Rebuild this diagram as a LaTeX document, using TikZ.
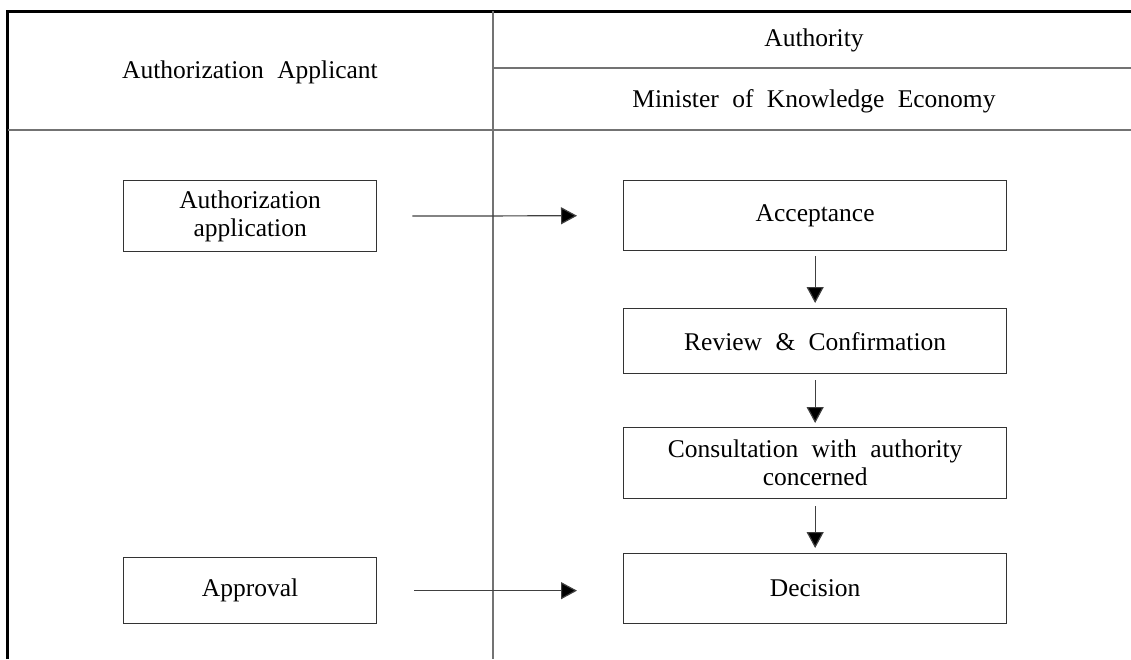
\documentclass[tikz,border=0pt]{standalone}
\usepackage{fontspec}
\setmainfont{Liberation Serif}[WordSpace=2.1]
\usetikzlibrary{arrows.meta}
\begin{document}
\begin{tikzpicture}[x=1pt,y=-1pt,
  grid/.style={draw=black!55,line width=1.2pt},
  frame/.style={draw=black,line width=3pt},
  txt/.style={font=\fontsize{25.5}{28}\selectfont},
  stepbox/.style={txt,draw=black!80,line width=1.3pt,rectangle,anchor=north west,
    align=center,inner sep=0pt},
  flow/.style={draw=black!75,line width=1.2pt,
    -{Triangle[length=16pt,width=17pt,fill=black]}}]
\useasboundingbox (0,0) rectangle (1131,659);
% table frame and dividers
\draw[frame] (7.5,659) -- (7.5,11) -- (1140,11);
\draw[grid] (493,11) -- (493,659);
\draw[grid] (493,68) -- (1131,68);
\draw[grid] (7.5,130) -- (1131,130);
% column headings
\node[txt] (hApp) at (250,72) {Authorization Applicant};
\node[txt] (hAuth) at (814,40) {Authority};
\node[txt] (hMin) at (814,101) {Minister of Knowledge Economy};
% process boxes
\node[stepbox,minimum width=253pt,minimum height=71pt] (app) at (123,180) {Authorization\\application};
\node[stepbox,minimum width=253pt,minimum height=66pt] (apv) at (123,557) {Approval};
\node[stepbox,minimum width=383pt,minimum height=70pt] (acc) at (623,180) {Acceptance};
\node[stepbox,minimum width=383pt,minimum height=65pt] (rev) at (623,308) {Review \& Confirmation};
\node[stepbox,minimum width=383pt,minimum height=71pt] (con) at (623,427) {Consultation with authority\\concerned};
\node[stepbox,minimum width=383pt,minimum height=70pt] (dec) at (623,553) {Decision};
% connectors
\draw[flow,shorten <=35pt,shorten >=46pt] (app.east) -- (acc.west);
\draw[flow,shorten <=37pt,shorten >=46pt] (apv.east) -- (apv.east -| dec.west);
\draw[flow,shorten <=5pt,shorten >=5pt] (acc.south) -- (rev.north);
\draw[flow,shorten <=6pt,shorten >=4pt] (rev.south) -- (con.north);
\draw[flow,shorten <=7pt,shorten >=5pt] (con.south) -- (dec.north);
\end{tikzpicture}
\end{document}
